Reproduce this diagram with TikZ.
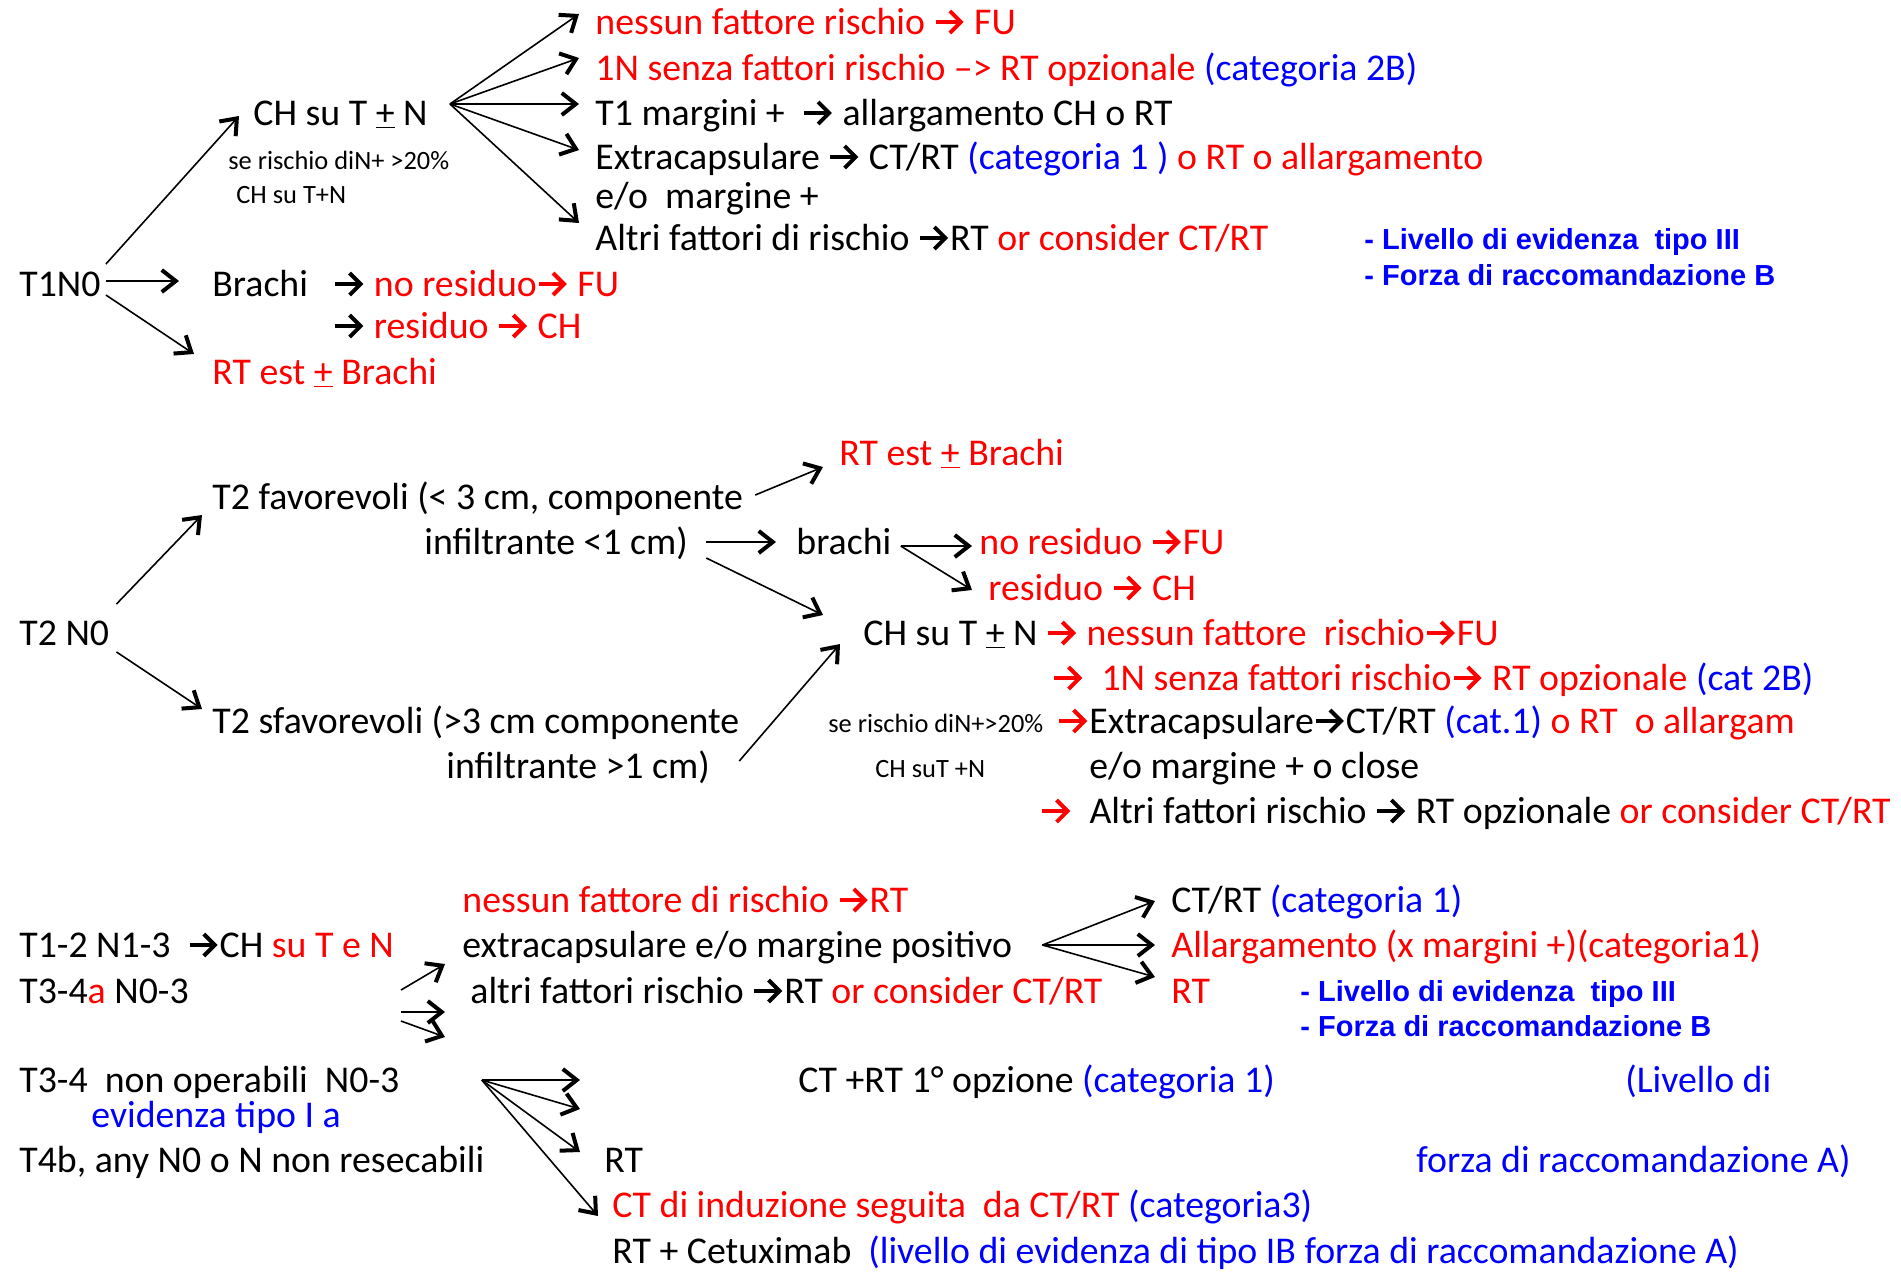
\documentclass[tikz,border=0pt]{standalone}
\usepackage{fontspec}
\setmainfont{Carlito}
\newfontfamily\arialf{Liberation Sans}
\usepackage{xcolor}
\usetikzlibrary{arrows.meta, calc}
\definecolor{rosso}{RGB}{255,0,0}
\definecolor{blu}{RGB}{0,0,255}
% freccia in linea nel testo
\newcommand{\frecc}{\tikz[baseline=0pt]\draw[line width=2pt,-{Straight Barb[length=5.5pt,width=11pt,line width=2pt]}](0,6pt)--(14pt,6pt);}

\begin{document}
\begin{tikzpicture}[x=0.5pt, y=-0.5pt,
    testo/.style={anchor=base west, inner sep=0pt, font=\fontsize{18.9}{22}\selectfont},
    piccolo/.style={testo, font=\fontsize{13.2}{15}\selectfont},
    nota/.style={testo, text=blu, font=\fontsize{14.5}{17}\selectfont\arialf\bfseries},
    ramo/.style={line width=0.8pt, -{Straight Barb[length=7pt,width=11pt,line width=2pt]}}]
    \useasboundingbox (0,0) rectangle (1901,1271);

    % T1N0
    \node[testo] (t1n0) at (19,296) {T1N0};
    \node[testo] (chA) at (253,125) {CH su T \underline{+} N};
    \node[piccolo] (rischioA1) at (228,169) {se rischio diN+ >20\%};
    \node[piccolo] (rischioA2) at (236,203) {CH su T+N};
    \node[testo, text=rosso] (fuA) at (595,34) {nessun fattore rischio \frecc\ FU};
    \node[testo, text=rosso] (unoNA) at (595,80) {1N senza fattori rischio –> RT opzionale \textcolor{blu}{(categoria 2B)}};
    \node[testo] (marginiA) at (595,125) {T1 margini + \ \frecc\ allargamento CH o RT};
    \node[testo] (extraA) at (595,169) {Extracapsulare \frecc\ CT/RT \textcolor{blu}{(categoria 1 )} \textcolor{rosso}{o RT o allargamento}};
    \node[testo] (eoA) at (595,208) {e/o \ margine +};
    \node[testo] (altriA) at (595,250) {Altri fattori di rischio \frecc RT \textcolor{rosso}{or consider CT/RT}};
    \node[nota] (livA) at (1364,249) {- Livello di evidenza \ tipo III};
    \node[nota] (forzaA) at (1364,285) {- Forza di raccomandazione B};
    \node[testo] (brachiA) at (212,296) {Brachi};
    \node[testo] (noresA) at (333,296) {\frecc\ \textcolor{rosso}{no residuo\frecc\ FU}};
    \node[testo] (resA) at (333,338) {\frecc\ \textcolor{rosso}{residuo \frecc\ CH}};
    \node[testo, text=rosso] (rtA) at (212,384) {RT est \underline{+} Brachi};

    \draw[ramo] ($(t1n0.base east)+(5,-32)$) -- ($(chA.base west)+(-14,-9)$);
    \draw[ramo] ($(t1n0.base east)+(5,-15)$) -- ($(brachiA.base west)+(-33,-15)$);
    \draw[ramo] ($(t1n0.base east)+(5,-1)$) -- ($(rtA.base west)+(-18,-30)$);
    \coordinate (fanA) at ($(chA.base east)+(22,-21)$);
    \foreach \n/\dy in {fuA/-20, unoNA/-22, marginiA/-21, extraA/-19, altriA/-27}
        \draw[ramo] (fanA) -- ($(\n.base west)+(-16,\dy)$);

    % T2 N0
    \node[testo, text=rosso] (rtB) at (839,465) {RT est \underline{+} Brachi};
    \node[testo] (favA) at (212,509) {T2 favorevoli (< 3 cm, componente};
    \node[testo] (favB) at (424,554) {infiltrante <1 cm)};
    \node[testo] (brachiB) at (796,554) {brachi};
    \node[testo, text=rosso] (noresB) at (979,554) {no residuo \frecc FU};
    \node[testo, text=rosso] (resB) at (988,600) {residuo \frecc\ CH};
    \node[testo] (t2n0) at (19,645) {T2 N0};
    \node[testo] (chB) at (863,645) {CH su T \underline{+} N \textcolor{rosso}{\frecc\ nessun fattore \ rischio\frecc FU}};
    \node[testo, text=rosso] (unoNB) at (1052,690) {\frecc\ \ 1N senza fattori rischio\frecc\ RT opzionale \textcolor{blu}{(cat 2B)}};
    \node[piccolo] (rischioB1) at (828,732) {se rischio diN+>20\%};
    \node[testo] (extraB) at (1057,733) {\textcolor{rosso}{\frecc}Extracapsulare\frecc CT/RT \textcolor{blu}{(cat.1)} \textcolor{rosso}{o RT \ o allargam}};
    \node[testo] (sfavA) at (212,733) {T2 sfavorevoli (>3 cm componente};
    \node[piccolo] (rischioB2) at (875,777) {CH suT +N};
    \node[testo] (eoB) at (1089,778) {e/o margine + o close};
    \node[testo] (sfavB) at (446,778) {infiltrante >1 cm)};
    \node[testo] (altriB) at (1040,823) {\textcolor{rosso}{\frecc}\ \ Altri fattori rischio \frecc\ RT opzionale \textcolor{rosso}{or consider CT/RT}};

    \draw[ramo] ($(t2n0.base east)+(7,-41)$) -- ($(favA.base west)+(-10,6)$);
    \draw[ramo] ($(t2n0.base east)+(7,7)$) -- ($(sfavA.base west)+(-10,-24)$);
    \draw[ramo] ($(favA.base east)+(12,-14)$) -- ($(rtB.base west)+(-16,2)$);
    \draw[ramo] ($(favB.base east)+(18,-12)$) -- ($(brachiB.base west)+(-20,-12)$);
    \draw[ramo] ($(favB.base east)+(18,4)$) -- ($(chB.base west)+(-40,-30)$);
    \draw[ramo] ($(sfavB.base east)+(29,-17)$) -- ($(chB.base west)+(-23,-1)$);
    \coordinate (fanB) at ($(brachiB.base east)+(9,-8)$);
    \draw[ramo] (fanB) -- ($(noresB.base west)+(-7,-8)$);
    \draw[ramo] (fanB) -- ($(resB.base west)+(-16,-10)$);

    % T1-2 N1-3 / T3-4a N0-3
    \node[testo, text=rosso] (nessunC) at (462,912) {nessun fattore di rischio \frecc RT};
    \node[testo] (t12) at (19,957) {T1-2 N1-3 \ \frecc CH \textcolor{rosso}{su T e N}};
    \node[testo] (extraC) at (462,957) {extracapsulare e/o margine positivo};
    \node[testo] (t34a) at (19,1003) {T3-4\textcolor{rosso}{a} N0-3};
    \node[testo] (altriC) at (470,1003) {altri fattori rischio \frecc RT \textcolor{rosso}{or consider CT/RT}};
    \node[testo] (ctrtC) at (1171,912) {CT/RT \textcolor{blu}{(categoria 1)}};
    \node[testo, text=rosso] (allargC) at (1171,957) {Allargamento (x margini +)(categoria1)};
    \node[testo, text=rosso] (rtC) at (1171,1003) {RT};
    \node[nota] (livC) at (1300,1001) {- Livello di evidenza \ tipo III};
    \node[nota] (forzaC) at (1300,1036) {- Forza di raccomandazione B};

    \draw[ramo] ($(extraC.base west)+(-61,33)$) -- ($(extraC.base west)+(-17,7)$);
    \draw[ramo] ($(altriC.base west)+(-69,9)$) -- ($(altriC.base west)+(-25,9)$);
    \draw[ramo] ($(altriC.base west)+(-69,18)$) -- ($(altriC.base west)+(-25,34)$);
    \coordinate (fanC) at ($(extraC.base east)+(30,-12)$);
    \draw[ramo] (fanC) -- ($(ctrtC.base west)+(-16,-11)$);
    \draw[ramo] (fanC) -- ($(allargC.base west)+(-16,-12)$);
    \draw[ramo] (fanC) -- ($(rtC.base west)+(-16,-26)$);

    % T3-4 non operabili
    \node[testo] (t34n) at (19,1092) {T3-4 \ non operabili \ N0-3};
    \node[testo, text=blu] (evidD) at (91,1127) {evidenza tipo I a};
    \node[testo] (t4b) at (19,1172) {T4b, any N0 o N non resecabili};
    \node[testo] (ctrtD) at (798,1092) {CT +RT 1° opzione \textcolor{blu}{(categoria 1)}};
    \node[testo, text=blu] (livelloD) at (1625,1092) {(Livello di};
    \node[testo, text=blu] (forzaD) at (1416,1172) {forza di raccomandazione A)};
    \node[testo] (rtD) at (604,1172) {RT};
    \node[testo, text=rosso] (induzD) at (612,1217) {CT di induzione seguita \ da CT/RT \textcolor{blu}{(categoria3)}};
    \node[testo] (cetuxD) at (612,1263) {RT + Cetuximab \ \textcolor{blu}{(livello di evidenza di tipo IB forza di raccomandazione A)}};

    \coordinate (fanD) at ($(t34n.base east)+(82,-12)$);
    \draw[ramo] (fanD) -- ($(ctrtD.base west)+(-218,-12)$);
    \draw[ramo] (fanD) -- ($(ctrtD.base west)+(-218,17)$);
    \draw[ramo] (fanD) -- ($(rtD.base west)+(-24,-20)$);
    \draw[ramo] (fanD) -- ($(induzD.base west)+(-14,-1)$);
\end{tikzpicture}
\end{document}
